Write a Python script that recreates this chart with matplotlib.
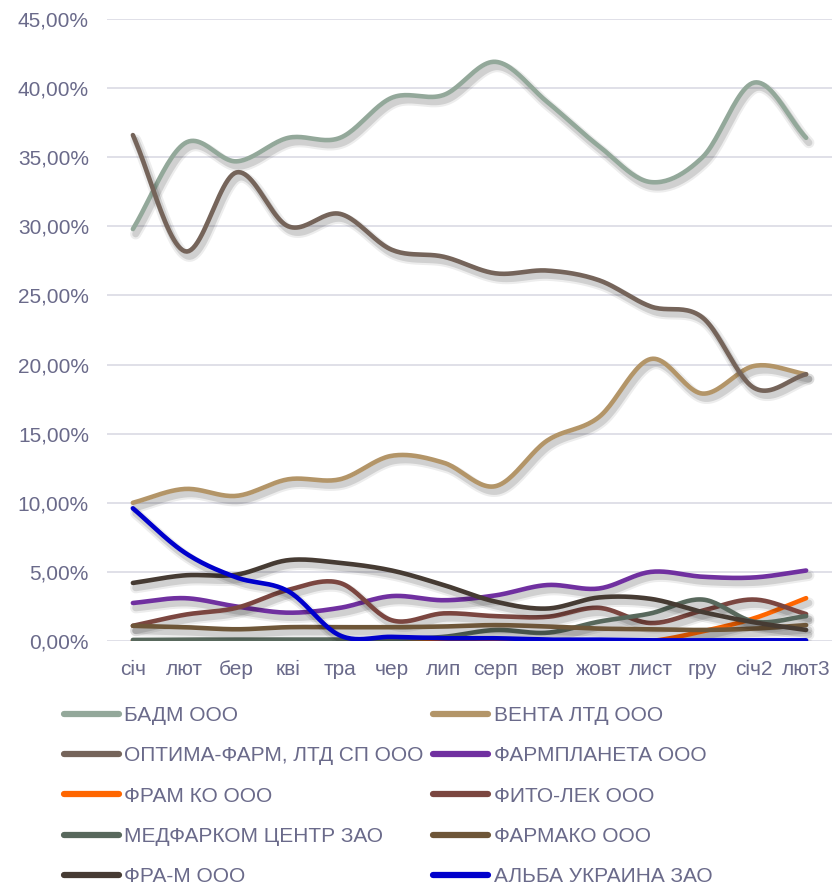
import numpy as np
from matplotlib import pyplot as plt
from matplotlib import patheffects as pe
from matplotlib.ticker import FuncFormatter

plt.rcParams['font.family'] = ['Liberation Sans', 'DejaVu Sans']

months = ['січ', 'лют', 'бер', 'кві', 'тра', 'чер', 'лип', 'серп', 'вер', 'жовт', 'лист', 'гру', 'січ2', 'лют3']

badm      = [29.8, 36.0, 34.7, 36.4, 36.4, 39.3, 39.5, 41.9, 39.0, 35.8, 33.2, 35.0, 40.4, 36.4]
venta     = [10.0, 11.0, 10.5, 11.7, 11.7, 13.4, 12.9, 11.2, 14.5, 16.2, 20.4, 17.9, 19.9, 19.3]
optima    = [36.6, 28.2, 33.9, 30.0, 30.9, 28.3, 27.8, 26.6, 26.8, 26.1, 24.2, 23.4, 18.3, 19.3]
farmplan  = [2.75, 3.1, 2.5, 2.05, 2.4, 3.25, 2.95, 3.3, 4.05, 3.8, 5.0, 4.65, 4.6, 5.1]
framko    = [0.0, 0.0, 0.0, 0.0, 0.0, 0.0, 0.0, 0.0, 0.0, 0.0, 0.0, 0.7, 1.65, 3.1]
fitolek   = [1.1, 1.9, 2.4, 3.7, 4.2, 1.5, 2.0, 1.8, 1.75, 2.4, 1.3, 2.2, 3.0, 1.95]
medfarkom = [0.08, 0.1, 0.1, 0.1, 0.1, 0.15, 0.3, 0.8, 0.6, 1.4, 2.0, 3.0, 1.4, 1.8]
farmako   = [1.1, 1.0, 0.85, 1.0, 1.0, 1.0, 1.05, 1.15, 1.05, 0.9, 0.85, 0.8, 0.9, 1.15]
fram      = [4.2, 4.75, 4.8, 5.85, 5.65, 5.1, 4.05, 2.85, 2.35, 3.15, 3.05, 2.1, 1.35, 0.8]
alba      = [9.6, 6.4, 4.6, 3.6, 0.4, 0.3, 0.2, 0.2, 0.1, 0.1, 0.05, 0.05, 0.05, 0.05]

names = ['БАДМ ООО', 'ВЕНТА ЛТД ООО', 'ОПТИМА-ФАРМ, ЛТД СП ООО', 'ФАРМПЛАНЕТА ООО',
         'ФРАМ КО ООО', 'ФИТО-ЛЕК ООО', 'МЕДФАРКОМ ЦЕНТР ЗАО', 'ФАРМАКО ООО',
         'ФРА-М ООО', 'АЛЬБА УКРАИНА ЗАО']
series = [badm, venta, optima, farmplan, framko, fitolek, medfarkom, farmako, fram, alba]
colors = ['#93A89A', '#B39568', '#75645A', '#7030A0', '#FF6600',
          '#7B4640', '#58685C', '#6E5638', '#463B33', '#0000CC']

txt_col = '#6A6A8A'

def smooth(x, y, n=24):
    # catmull-rom spline through the points (like excel "smoothed line")
    x = np.asarray(x, float); y = np.asarray(y, float)
    px = np.concatenate([[2*x[0]-x[1]], x, [2*x[-1]-x[-2]]])
    py = np.concatenate([[2*y[0]-y[1]], y, [2*y[-1]-y[-2]]])
    xs, ys = [], []
    t = np.linspace(0, 1, n, endpoint=False)
    for i in range(1, len(px)-2):
        for arr, out in ((px, xs), (py, ys)):
            p0, p1, p2, p3 = arr[i-1], arr[i], arr[i+1], arr[i+2]
            out.extend(0.5*((2*p1) + (-p0+p2)*t + (2*p0-5*p1+4*p2-p3)*t**2 + (-p0+3*p1-3*p2+p3)*t**3))
    xs.append(x[-1]); ys.append(y[-1])
    return np.array(xs), np.array(ys)

fig = plt.figure(figsize=(8.32, 8.86), dpi=100)
ax = fig.add_axes([0.1286, 0.2765, 0.8714, 0.7021])

xpos = np.arange(len(months))
shadow = [pe.SimpleLineShadow(offset=(2, -3.5), shadow_color='k', alpha=0.07, linewidth=8),
          pe.SimpleLineShadow(offset=(2, -3.5), shadow_color='k', alpha=0.12, linewidth=5),
          pe.Normal()]

handles = []
for name, vals, c in zip(names, series, colors):
    sx, sy = smooth(xpos, np.array(vals)/100)
    ln, = ax.plot(sx, sy, color=c, lw=3.3, solid_capstyle='round', label=name,
                  path_effects=shadow)
    handles.append(ln)

ax.set_xlim(-0.5, len(months)-0.5)
ax.set_ylim(0, 0.45)
ax.set_yticks(np.arange(0, 0.451, 0.05))
ax.yaxis.set_major_formatter(FuncFormatter(lambda v, p: ('%.2f%%' % (v*100)).replace('.', ',')))
ax.set_xticks(xpos)
ax.set_xticklabels(months)
ax.tick_params(length=0, labelsize=15, colors=txt_col)
ax.tick_params(axis='y', pad=13)
ax.tick_params(axis='x', pad=14)
for s in ax.spines.values():
    s.set_visible(False)
ax.grid(axis='y', color='#DADAE4', lw=1.2)
ax.set_axisbelow(True)

order = list(range(0, 10, 2)) + list(range(1, 10, 2))
leg = fig.legend([handles[i] for i in order], [names[i] for i in order],
                 loc='upper left', bbox_to_anchor=(0.077, 0.203), ncol=2, frameon=False,
                 fontsize=15, handlelength=2.65, handletextpad=0.25, columnspacing=0.45,
                 labelspacing=1.02, borderpad=0, borderaxespad=0)
for t in leg.get_texts():
    t.set_color(txt_col)
for l in leg.get_lines():
    l.set_linewidth(4.5)
    l.set_path_effects([])

plt.savefig('out.png', dpi=100)
